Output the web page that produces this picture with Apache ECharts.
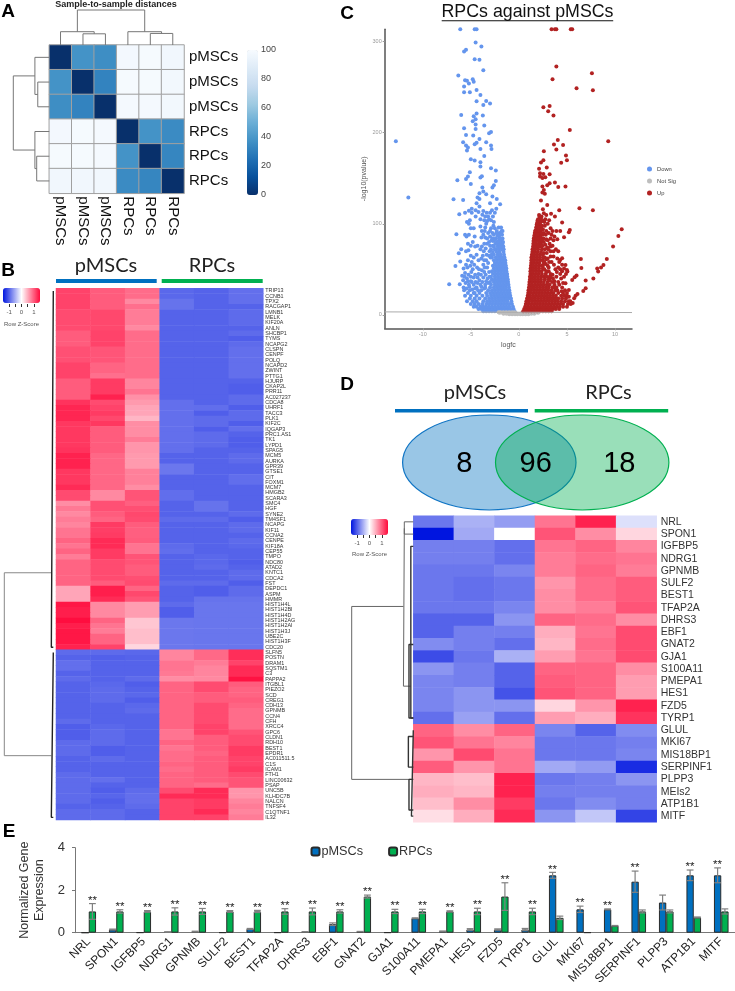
<!DOCTYPE html>
<html><head><meta charset="utf-8">
<style>html,body{margin:0;padding:0;background:#fff}#c{width:735px;height:991px}</style>
<script src="https://cdn.jsdelivr.net/npm/echarts@6/dist/echarts.min.js"></script>
</head><body><div id="c"></div>
<script>
// ---------- DATA ----------
const sampleRowLabels = ['pMSCs','pMSCs','pMSCs','RPCs','RPCs','RPCs'];
const sampleColLabels = ['pMSCs','pMSCs','pMSCs','RPCs','RPCs','RPCs'];
const sampleDistances = [
 [0,38,36,98,99,97],
 [38,0,32,99,99,97.5],
 [36,32,0,98.5,98.5,97.5],
 [98,99,98.5,0,38,35],
 [99,99,98.5,38,0,33],
 [97,97,97,35,33,0]];
// dendrogram brackets: [posA, posB, heightA, heightB, joinHeight]
const dendroARows = [[1.5,2.5,0,0,.32],[.5,2,0,.32,.4],[4.5,5.5,0,0,.35],[3.5,5,0,.35,.4],[1.25,4.25,.4,.4,1]];
const dendroACols = [[1.5,2.5,0,0,.32],[.5,2,0,.32,.38],[4.5,5.5,0,0,.33],[3.5,5,0,.33,.38],[1.25,4.25,.38,.38,1]];
const dendroBRoot = [[53.5,87.9,.04,.04,1]];
const dendroBLeaves = [[.5,67.5,0,0,.04],[68.5,99.5,0,0,.04]];
const dendroDRoot = [[7.4,21.5,.16,.03,1],[1.03,13.9,.146,.04,.16],[.5,1.5,0,0,.146]];
const dendroDLeaves = [[2.5,16.5,0,0,.04],[10.5,16.5,0,0,.07],[17.5,24.5,0,0,.03],[18,20.5,0,0,.08],[21.5,24,0,0,.07]];

const genesB = ['TRIP13','CCNB1','TPX2','RACGAP1','LMNB1','MELK','KIF20A','ANLN','SHCBP1','TYMS','NCAPG2','CLSPN','CENPF','POLQ','NCAPD2','ZWINT','PTTG1','HJURP','CKAP2L','PRR11','AC027237','CDCA8','UHRF1','TACC3','PLK1','KIF2C','IQGAP3','PRC1.AS1','TK1','LYPD1','SPAG5','MCM5','AURKA','GPR39','GTSE1','CIT','FOXM1','MCM7','HMGB2','SCARA3','SMC4','HGF','SYNE2','TM4SF1','NCAPG','KIF11','CCNA2','CENPE','KIF18A','CEP55','TMPO','NDC80','ATAD2','KNTC1','CDCA2','FST','DEPDC1','ASPM','HMMR','HIST1H4L','HIST1H2BI','HIST1H4D','HIST1H2AG','HIST1H2AI','HIST1H3J','UBE2C','HIST1H3F','CDC20','SLFN5','POSTN','DRAM1','SQSTM1','C3','PAPPA2','ITGBL1','PIEZO2','SCD','CREG1','CDH13','GPNMB','CCN4','CFH','XRCC4','GPC6','CLDN1','RDH10','BEST1','EPDR1','AC011511.5','C1S','ICAM1','FTH1','LINC00632','PSAP','UNC5B','KLHDC7B','NALCN','TNFSF4','C1QTNF1','IL32'];
const zScoresB = [
[1.15,1,.9,-.97,-1,-.92],[1.15,1,.9,-.97,-1,-.92],[1.15,1,.72,-.9,-1,-.92],[1.15,1,.88,-.9,-1,-1],
[1.1,1.12,.8,-1,-1,-.95],[1.1,1.12,.8,-1,-1,-.95],[1.1,1.12,.8,-1,-1,-.95],[1.1,1.12,.72,-1,-1,-1],
[1,1.15,.9,-1,-1,-.95],[1,1.15,.9,-1,-1,-1.03],[1,1.15,.9,-1,-1,-.95],[1.07,1.04,.9,-1,-1,-.92],
[1.07,1.04,.9,-1,-1,-.92],[1.07,1.04,.9,-1,-1,-.92],[1.15,.95,.9,-1,-1,-.92],[1.15,.95,.9,-1,-1,-.92],
[1.15,.88,.9,-1,-1,-.92],[1,1.2,.75,-1,-1,-1],[1,1.2,.75,-1,-1,-1.03],[1,1.2,.85,-1,-1,-1.03],
[1,1.35,.68,-1,-1,-.95],[1.25,1.1,.62,-.92,-1,-.95],[1.33,1.15,.55,-.92,-.93,-1.03],[1.33,1.2,.55,-.92,-1.03,-.95],
[1.33,1.12,.45,-.92,-.95,-.95],[1.22,1.22,.7,-.92,-.95,-1.03],[1.22,1,.7,-.92,-1.03,-.92],[1.22,1,.7,-.92,-.95,-1],
[1.22,1,.8,-.92,-.95,-1.03],[1.22,1,.65,-.92,-.95,-1.03],[1.25,1,.65,-.92,-1,-1],[1.35,.93,.62,-1,-1,-.95],
[1.35,.93,.62,-1,-1,-.95],[1.35,.93,.62,-.87,-1,-1],[1.22,.93,.78,-.87,-1,-1],[1.22,.93,.78,-1,-1,-.93],
[1.22,.93,.78,-1,-1,-.93],[1.3,.93,.7,-1,-1,-1],[1.1,.72,1.05,-.93,-1,-1],[1.1,.72,1.05,-.93,-1,-1],
[.7,1.07,.98,-1,-.9,-1],[.82,1.07,1.08,-1,-.9,-1],[.72,1,1.12,-1,-1,-.95],[.8,.95,1.1,-.95,-.95,-1.03],
[.75,1.2,1,-1,-1,-.95],[.85,1.18,.98,-1,-1,-.95],[.85,1.2,.98,-1,-1,-1],[.95,1.3,1,-1,-1,-.95],
[.85,1.3,.85,-.95,-1,-.97],[.95,1.2,.85,-.93,-1,-1],[.8,1.2,1.05,-1,-.97,-1],[.95,1.1,1.05,-1,-.97,-1.03],
[.95,1.1,1,-1,-.95,-1],[.95,1.1,1,-1,-1,-.95],[.95,1.1,1.08,-1,-1,-.95],[.95,1,1.1,-.95,-.95,-1.03],
[.55,1.38,.95,-1,-1.03,-.95],[.55,1.38,1.12,-1,-1.03,-.95],[.55,1.3,1.05,-1,-.9,-.9],[1.42,.72,.6,-.95,-.88,-.88],
[1.38,.72,.6,-1.03,-.88,-.88],[1.38,.72,.6,-1.03,-.88,-.88],[1.48,.95,.35,-.87,-.88,-.88],[1.38,.85,.35,-.87,-.88,-.88],
[1.42,.8,.4,-.87,-.88,-.88],[1.42,.95,.4,-.87,-.88,-.88],[1.42,.95,.4,-.87,-.88,-.88],[1.35,1.15,.25,-.87,-.88,-.88],
[-.95,-.95,-.97,.75,.92,1.28],[-1,-1.02,-1,.75,.92,1.28],[-.92,-1,-1,.85,.8,1.15],[-.92,-1,-1,.85,.75,1.3],
[-1,-1,-1,.82,.75,1.3],[-.95,-1,-.95,.7,.72,1.45],[-1,-.97,-1.03,.95,1.1,1],[-1,-.95,-1,.95,1.1,.95],
[-1,-.95,-.97,.95,1,.95],[-1,-.95,-1.03,.95,1,1],[-1,-1,-.97,.95,1.1,.95],[-1,-1,-.95,.95,1.1,.9],
[-1,-1,-1,.95,1.1,.9],[-.95,-1,-1,.95,1.1,.9],[-1.03,-.97,-1,.95,1.15,.9],[-1.03,-.95,-1,.85,1.15,1.05],
[-1.03,-.95,-1,.85,1,1.1],[-.95,-.95,-1,.95,1,1.1],[-.95,-1.03,-1,.85,1,1.2],[-.95,-1.03,-1,.9,.95,1.2],
[-1,-.95,-1,.9,1,1.15],[-1,-1,-1,.95,1,1.15],[-1,-1,-1,.9,1,1.2],[-.95,-1,-1,.95,1,1.1],
[-.95,-.92,-1,.95,1,1.05],[-.95,-1,-1,.95,.9,1.05],[-.95,-1.03,-.95,1.1,1.3,.65],[-.95,-.98,-.92,1.3,1.3,.65],
[-.95,-1.03,-.92,1.15,1.2,.75],[-1,-1,-.95,1.15,1.2,.8],[-.95,-.95,-1,1.15,1.3,.75],[-.95,-.95,-1,1.15,1.15,.8]];

const genesD = ['NRL','SPON1','IGFBP5','NDRG1','GPNMB','SULF2','BEST1','TFAP2A','DHRS3','EBF1','GNAT2','GJA1','S100A11','PMEPA1','HES1','FZD5','TYRP1','GLUL','MKI67','MIS18BP1','SERPINF1','PLPP3','MEIs2','ATP1B1','MITF'];
const zScoresD = [
[-.87,-.5,-.63,.85,1.35,-.2],[-1.5,-.55,0,1.05,.7,.25],[-.82,-.82,-.92,.85,.95,.75],[-.82,-.82,-.92,.8,.9,.85],
[-.87,-.87,-.78,.8,.95,.8],[-.87,-.92,-.87,.65,.9,1],[-.87,-.92,-.87,.7,.9,1],[-.87,-.87,-.78,.7,.8,1.05],
[-1,-1,-.68,.95,.9,.7],[-1,-.82,-.82,.5,.85,1.1],[-.74,-.82,-.92,.45,.9,1.1],[-1.15,-.87,-.5,.6,.85,1.1],
[-.68,-.82,-1,.95,.95,.7],[-.78,-.82,-1,1,.95,.6],[-.78,-.68,-1.1,1.05,.95,.6],[-.78,-.68,-.68,.25,.65,1.35],
[-.92,-.6,-.92,.6,.5,1.25],[.95,.7,.95,-.78,-1,-.74],[1.05,.85,.75,-.87,-.87,-.82],[.65,1.1,.85,-.87,-.87,-.78],
[1,.65,.85,-.55,-.64,-1.35],[.45,.4,1.35,-.87,-.82,-.68],[.5,.45,1.35,-.82,-.82,-.82],[.4,.7,1.2,-.87,-.74,-.82],
[.2,.5,1.3,-.68,-.36,-1.2]];

const vennCounts = [8,96,18];
const vennSets = ['pMSCs','RPCs'];

// volcano: sparse points [logfc, -log10(p)]
const downSparse = [[-12.8,190.6],[-11.5,129],[-6.1,313.5],[-4.6,313.5],[-4.4,313.5],[-4.5,299],[-3.9,294.5],[-5.5,291],[-5.7,289],[-4.6,280.6],[-4.1,280],[-3.7,268.6],[-6.3,262.7],[-4.8,258.7],[-4.7,255.8],[-5.6,257.6],[-5.4,257],[-5.7,250.6],[-5.2,254],[-4.4,247],[-5.7,244.4],[-5.1,244.4],[-4,241.5],[-4.4,234.5],[-3.4,234.9],[-3,232],[-3.7,230.5],[-6,219.5],[-4.4,221],[-3.75,218.8],[-4.7,218],[-4.5,214.8],[-4.8,212.6],[-4.5,209],[-3.6,207.8],[-5.7,205],[-4.5,204],[-2.9,200.9],[-3.1,199.4],[-5.5,197.6],[-4.75,196.9],[-4.1,193.2],[-3.4,189.5],[-5.8,189.5],[-4.4,189],[-4.6,187.3],[-5.5,185.9],[-5.3,183.7],[-5.4,180.4],[-4,182],[-2.9,185.9],[-2.85,182.2],[-3.6,174.5],[-5,170.9],[-4.6,169.4],[-4,167.6],[-4,162.8],[-2.9,161],[-2.4,158.4],[-5.1,156.6],[-3.85,152.2],[-4,150.7],[-5.3,151.8],[-5.5,149.3],[-6.4,147.8],[-5,143.8],[-2.4,147],[-2.6,142.3],[-2.75,139.8],[-3.8,139.8],[-3.7,135.4],[-4.1,133.6],[-3.4,132.5],[-6.8,127],[-5.8,126.2],[-4.3,129],[-4.1,127.3],[-2.75,130],[-2.3,127.3],[-4.4,122.6],[-3,122.6],[-1.95,121.5],[-4.1,119],[-4.9,116.4],[-2.35,116.4],[-5.2,114.2],[-6.2,110.5],[-4.5,115],[-3.7,114],[-3.35,112],[-3.2,108],[-3.1,105],[-3.3,103],
[-7.25,33.7],[-6.6,53.8],[-6.5,88.5],[-6.25,67.7],[-6.1,58.5],[-6.15,33.7],[-5.9,43],[-5.8,38],[-5.7,27],[-5.6,46],[-5.5,55],[-5.3,60],[-5.6,88],[-5.45,86],[-5.3,78],[-5.25,71],[-5.2,100],[-5.1,104],[-5,76],[-4.9,58],[-4.8,50],[-4.7,95],[-4.6,86],[-4.55,75],[-4.4,66],[-4.35,52],[-4.2,45],[-4.1,38],[-4.4,30],[-4.6,24],[-4,97],[-3.9,85],[-3.85,75],[-3.75,65],[-3.7,55],[-3.6,47],[-3.55,92],[-3.5,85],[-3.45,73],[-3.4,60],[-3.3,52],[-3.25,40],[-3.2,90],[-3.1,80],[-3.05,70],[-3,92],[-2.95,63],[-2.85,82],[-2.75,90],[-2.7,76],[-2.65,98],[-2.6,88],[-2.5,95],[-2.4,84],[-2.3,92],[-2.2,87],[-2.1,96],[-2,90],[-1.85,96],[-1.75,88],[-1.7,92],[-5.6,112],[-5.4,102],[-4.9,112],[-4.5,108],[-4.2,113],[-4,105],[-3.8,110],[-3.6,104],[-3.5,108],[-3.4,100],[-3,112],[-2.9,104],[-2.8,115],[-2.6,102],[-2.5,112],[-2.7,108],[-5,95],[-5.2,88],[-5.5,70],[-6,72],[-5.4,40],[-5.2,33],[-5,42],[-4.9,36],[-4.7,41],[-4.5,36],[-5.1,27],[-3.9,31],[-3.7,41],[-3.5,33],
[-5.75,30],[-5.45,29],[-5.15,31],[-4.85,28],[-4.55,29],[-4.25,27],[-5.55,35],[-5.3,37],[-5,37],[-4.7,33],[-4.3,35],[-4,33],[-3.8,36],[-3.6,29],[-3.4,37],[-5.65,42],[-5.25,44],[-4.95,47],[-4.55,44],[-4.3,41],[-3.95,44],[-3.45,44],[-3.2,35],[-5.75,51],[-5.35,52],[-5.05,54],[-4.65,55],[-4.15,50],[-3.85,49],[-3.55,52],[-3.1,47],[-3.05,42],[-3.2,57],[-3.6,60],[-3.9,62],[-4.2,60],[-4.7,63],[-5,65],[-3.1,65],[-3.35,66],[-3.65,70],[-4,72],[-4.3,76],[-4.8,80],[-3.3,78],[-3.6,78],[-2.9,72],[-3,76],[-2.85,66],[-2.5,72],[-2.45,78],[-2.75,84],[-3,86],[-3.3,84],[-3.7,88],[-2.9,95],[-2.2,80],[-2.5,82],[-1.9,84],[-1.65,80],[-2.05,87],[-2.35,90],[-1.8,92],[-3.5,96],[-3.85,92]];
// dense part of the volcano, as rows: [y, [x, x, ...]]
const downMassRows = [
[4,[-3.7,-3.4,-3.1,-2.8,-2.5,-2.2,-1.9,-1.6,-1.3,-1,-.7,-.45]],
[6.5,[-4.2,-3.9,-3.6,-3.3,-3,-2.7,-2.4,-2.1,-1.8,-1.5,-1.2,-.9,-.55]],
[9,[-4.7,-4.4,-4,-3.7,-3.4,-3.1,-2.8,-2.5,-2.2,-1.9,-1.6,-1.3,-1,-.62]],
[12,[-5,-4.6,-4.2,-3.8,-3.4,-3.1,-2.8,-2.5,-2.2,-1.9,-1.6,-1.3,-1,-.72]],
[15,[-5.4,-4.8,-4.4,-3.7,-3.3,-3,-2.7,-2.4,-2.1,-1.8,-1.5,-1.2,-.78]],
[18,[-5.1,-4.6,-4.1,-3.5,-3.1,-2.8,-2.5,-2.2,-1.9,-1.6,-1.3,-1.05,-.82]],
[21,[-5.6,-5,-4.4,-3.8,-3.3,-2.9,-2.6,-2.3,-2,-1.7,-1.4,-1.15,-.9]],
[24,[-5.3,-4.7,-4.1,-3.4,-3,-2.7,-2.4,-2.1,-1.8,-1.5,-1.2,-.95]],
[27,[-3.9,-3.2,-2.8,-2.5,-2.2,-1.9,-1.6,-1.3,-1]],
[30,[-3.5,-3,-2.6,-2.3,-2,-1.7,-1.4,-1.05]],
[33,[-2.9,-2.5,-2.2,-1.9,-1.6,-1.3,-1.08]],
[36,[-3,-2.6,-2.3,-2,-1.7,-1.4,-1.12]],
[39,[-2.8,-2.5,-2.2,-1.9,-1.6,-1.3,-1.15]],
[42,[-2.9,-2.5,-2.2,-1.9,-1.6,-1.35,-1.2]],
[45,[-2.7,-2.4,-2.1,-1.8,-1.5,-1.22]],
[48,[-2.8,-2.5,-2.2,-1.9,-1.6,-1.3]],
[51,[-2.6,-2.3,-2,-1.7,-1.45,-1.3]],
[54,[-2.7,-2.4,-2.1,-1.8,-1.55,-1.35]],
[57,[-2.5,-2.2,-1.9,-1.65,-1.4]],
[60,[-2.6,-2.3,-2,-1.7,-1.42]],
[63,[-2.8,-2.4,-2.1,-1.8,-1.5]],
[66,[-2.6,-2.2,-1.9,-1.55]],
[69,[-2.7,-2.3,-2,-1.6]],
[72,[-2.4,-2.1,-1.8,-1.58]],
[75,[-2.6,-2.2,-1.9,-1.62]],
[78,[-2.3,-2,-1.7]],
[81,[-2.7,-2.1,-1.8]],
[84,[-2.4,-2,-1.7]]];
const upSparse = [[3.4,313.5],[3.75,313.5],[3.9,313.5],[5.4,313.5],[5.55,313.5],[3.9,272.6],[7.6,265.3],[3.5,258.7],[6,248.8],[7.7,246.6],[2.55,228],[3.2,229.4],[3.05,223.6],[3.6,218.8],[5.3,203],[9.3,190.6],[4.05,192],[3.65,187],[4.6,186.6],[3.9,181.5],[2.6,179.7],[4.9,174.9],[5,169.8],[4.4,166.9],[2.3,167.2],[2.55,169.8],[2.9,161.7],[2.1,160.3],[3.2,154.4],[2.2,155.5],[2.55,154.8],[2.2,152],[2.45,150.4],[2.75,151],[3.75,145.3],[3.2,144.5],[2.95,142.3],[2.45,140.9],[4.1,140.5],[4.85,140.9],[2.6,137],[2.45,134.3],[2.7,133],[2.3,125.5],[2.95,120.7],[6.3,117],[7.7,114.9],[4.2,114.9],[2.5,116],[2.6,111.6],[3.35,110.9],[2.85,109.8],[3.75,108],[2.1,109.8],[2.35,108],[10.7,94],[10.35,86.7],[9.8,75],[5.3,93.3],[5.2,90.7],[4.7,85.3],[4.5,101.4],[4.3,92.2],[9.15,61.5],[8.8,54.9],[8.55,52],[8.15,51],[8.25,47.6],[7.75,39.9],[6.45,61.5],[6.5,51.6],[6,43.2],[5.8,41.3],[6.95,37.7],[5.55,38.4],[6.95,29.3],[6.7,26.3],[6.1,23],[5.9,20.9],[5.75,18.3],[5.2,27.4],[4.85,34.8],[4.85,54.9],[4.5,62.2],[4.3,60.4],[5,49.4],[5.05,47.6],
[2,105],[2.2,100],[2.4,103],[1.95,98],[2.7,98],[2.5,94],[3,100],[3.3,95],[3.1,90],[3.5,92],[2.8,88],[3,82],[3.2,78],[3.6,82],[2.6,80],[2.7,72],[2.9,68],[3.3,70],[3.6,64],[4,62],[4.2,58],[4.5,55],[4.1,52],[3.8,50],[3.4,58],[3.1,52],[3.9,42],[4.3,45],[3.5,44],[3,62],[2.8,56],[3.3,45],[3.7,37],[4.2,33],[4.5,30],[4.8,27],[5,24],[4,27],[3.7,33],[4.4,40],[2.15,108],[2.25,95],[2.45,88],[2.05,92],
[2.55,90],[2.85,92],[2.25,85],[2.55,84],[2.85,83],[2.45,76],[2.75,77],[2.95,74],[2.6,68],[2.55,63],[2.85,61],[2.65,58],[2.5,54],[2.65,50],[2.85,47],[3.1,48],[3.3,41],[3.55,40],[2.9,42],[3.2,38],[3.45,36],[3.6,30],[3.9,30],[4.1,36],[4.6,35],[4.7,42],[4.9,45],[4.5,48],[4.7,51],[3.95,47],[3.65,55],[3.15,58],[3.3,64],[3.6,70],[3.85,72],[3.05,72],[3.3,75],[2.55,103],[2.75,105],[2.3,106],[2.1,102],[1.9,101],[1.95,104],[2.05,96],[2.4,98],[2.65,102],[3.15,104],[1.7,92],[1.95,88],[2.3,90],[2.05,84],[2.3,82],[3.4,88],[3.7,86],[4,83],[3.9,92],[3.3,84],[3.5,76],[4.1,70],[4.3,50],[4.45,26],[5.2,20],[4.75,21],[5.35,15],[5.6,13]];
const upMassRows = [
[4,[.45,.75,1,1.3,1.6,1.9,2.2,2.5,2.8,3.1,3.4]],
[6.5,[.55,.85,1.15,1.45,1.75,2.05,2.35,2.65,2.95,3.25,3.55,3.85,4.2]],
[9,[.65,.95,1.25,1.55,1.85,2.15,2.45,2.75,3.05,3.35,3.65,3.95,4.25,4.6,5]],
[12,[.72,1,1.3,1.6,1.9,2.2,2.5,2.8,3.1,3.4,3.7,4,4.3,4.6,5.1,5.4]],
[15,[.78,1.05,1.35,1.65,1.95,2.25,2.55,2.85,3.15,3.45,3.75,4.05,4.4,4.8,5.2]],
[18,[.85,1.1,1.4,1.7,2,2.3,2.6,2.9,3.2,3.5,3.8,4.1,4.5,4.9]],
[21,[.92,1.15,1.45,1.75,2.05,2.35,2.65,2.95,3.25,3.55,3.85,4.4,5]],
[24,[.97,1.2,1.5,1.8,2.1,2.4,2.7,3,3.3,3.6,4.1,4.6]],
[27,[1,1.25,1.55,1.85,2.15,2.45,2.75,3.05,3.4,3.8]],
[30,[1.05,1.3,1.6,1.9,2.2,2.5,2.8,3.1,3.5]],
[33,[1.08,1.35,1.65,1.95,2.25,2.55,2.9,3.2]],
[36,[1.1,1.35,1.65,1.95,2.25,2.6,3]],
[39,[1.15,1.4,1.7,2,2.3,2.7,3.1]],
[42,[1.15,1.4,1.7,2,2.3,2.6,3.2]],
[45,[1.2,1.45,1.75,2.05,2.4,2.8]],
[48,[1.2,1.45,1.75,2.05,2.35,2.9]],
[51,[1.22,1.5,1.8,2.1,2.5]],
[54,[1.25,1.5,1.8,2.1,2.4,3]],
[57,[1.28,1.55,1.85,2.15,2.6]],
[60,[1.3,1.55,1.85,2.15,2.45]],
[63,[1.3,1.6,1.9,2.2,2.7]],
[66,[1.35,1.6,1.9,2.2,2.5]],
[69,[1.4,1.65,1.95,2.3]],
[72,[1.42,1.7,2,2.4]],
[75,[1.48,1.75,2.05,2.35]],
[78,[1.5,1.75,2.05,2.3]],
[81,[1.52,1.8,2.1,2.4]],
[84,[1.55,1.85,2.15]],
[87,[1.6,1.85,2.15]],
[90,[1.65,1.9,2.2]],
[93,[1.75,2,2.3]],
[96,[1.8,2.05,2.3]],
[99,[1.85,2.15]],
[102,[1.95,2.2]]];
const notSigRows = [
[.6,[-1,-.7,-.4,-.15,.15,.4,.7,1]],
[1.4,[-1.6,-1.3,-1,-.7,-.45,-.2,.2,.45,.7,1,1.3,1.6]],
[2.3,[-2,-1.7,-1.4,-1.1,-.85,-.6,-.35,.35,.6,.85,1.1,1.4,1.7,2]],
[3,[-2.1,-1.9,-1.6,-1.3,-1,-.7,-.45,.45,.7,1,1.3,1.6,1.9]]];
const cutoffLine = [[-13.96,3.3],[11.77,2.6]];
const volcanoGroups = ['Down','Not Sig','Up'];
const volcanoXTicks = [-10,-5,0,5,10];
const volcanoYTicks = [0,100,200,300];

const genesE = ['NRL','SPON1','IGFBP5','NDRG1','GPNMB','SULF2','BEST1','TFAP2A','DHRS3','EBF1','GNAT2','GJA1','S100A11','PMEPA1','HES1','FZD5','TYRP1','GLUL','MKI67','MIS18BP1','SERPINF1','PLPP3','ATP1B1','MITF'];
const pMSCsExpr = [0,.15,.01,.03,.05,.01,.18,.01,.04,.4,.05,.01,.68,.06,.15,.15,.15,2.7,1.1,1.1,2.4,1.42,2.7,2.7];
const pMSCsErr  = [0,.02,0,.01,.02,0,.02,0,.01,.06,.01,0,.02,.02,.04,.03,.05,.14,.15,.02,.5,.35,.25,.35];
const rpcsExpr  = [1,1,1,1,1,1,1,1,1,1,1.7,1,1,1,1,1.7,1,.7,.01,.33,1,1,.72,1];
const rpcsErr   = [.37,.08,.04,.17,.14,.04,.05,.13,.16,.08,.07,.1,.1,.03,.15,.65,.15,.08,0,.01,.07,.07,.02,.12];
const significant = [1,1,1,1,1,1,1,1,1,1,1,1,1,1,1,1,1,1,1,1,1,0,1,1];

// ---------- STYLES ----------
const SANS = '"Liberation Sans", Arial, sans-serif';
const BLUE_WHITE_RED = ['#0015e0','#ffffff','#ff0a3c'];
const BLUES = ['#08306b','#08519c','#2171b5','#4292c6','#6baed6','#9ecae1','#c6dbef','#deebf7','#f7fbff'];
const grids=[], xAxes=[], yAxes=[], series=[], visualMaps=[];
function addGrid(l,t,w,h){grids.push({left:l,top:t,width:w,height:h,containLabel:false});return grids.length-1;}

function heat(rect,rowNames,colNames,matrix,vm,extra){
  const g=addGrid(...rect);
  xAxes.push(Object.assign({type:'category',gridIndex:g,data:colNames,show:false,splitArea:{show:false}},extra.x||{}));
  yAxes.push({type:'category',gridIndex:g,data:rowNames,inverse:true,position:'right',
    axisLine:{show:false},axisTick:{show:false},splitArea:{show:false},
    axisLabel:Object.assign({interval:0,color:'#333',fontFamily:SANS},extra.yl)});
  const data=[];
  matrix.forEach((r,i)=>r.forEach((v,j)=>data.push([j,i,v])));
  series.push({type:'heatmap',xAxisIndex:xAxes.length-1,yAxisIndex:yAxes.length-1,data,silent:true,
    itemStyle:extra.item||{borderWidth:0},progressive:0});
  visualMaps.push(Object.assign({seriesIndex:series.length-1,padding:0,calculable:false,hoverLink:false,silent:true,
    inRange:{color:vm.colors},min:vm.min,max:vm.max,text:null},vm.layout));
}
function dendro(rect,brackets,n,vertical,color,width){
  const g=addGrid(...rect);
  const base={gridIndex:g,type:'value',show:false,scale:false};
  if(vertical){ // tree grows leftward from the rows
    xAxes.push(Object.assign({},base,{min:0,max:1,inverse:true}));
    yAxes.push(Object.assign({},base,{min:0,max:n,inverse:true}));
  }else{
    xAxes.push(Object.assign({},base,{min:0,max:n}));
    yAxes.push(Object.assign({},base,{min:0,max:1}));
  }
  brackets.forEach(([a,b,ha,hb,h])=>{
    const pts=vertical?[[ha,a],[h,a],[h,b],[hb,b]]:[[a,ha],[a,h],[b,h],[b,hb]];
    series.push({type:'line',xAxisIndex:xAxes.length-1,yAxisIndex:yAxes.length-1,data:pts,showSymbol:false,silent:true,clip:false,
      lineStyle:{color,width},z:3});
  });
}
function zKey(left,top){
  const g=addGrid(left,top,37,16);
  xAxes.push({type:'value',gridIndex:g,min:-1.5,max:1.5,position:'bottom',axisLine:{show:false},splitLine:{show:false},
    axisTick:{show:true,length:3,lineStyle:{color:'#333'},customValues:[-1,-.5,0,.5,1]},
    axisLabel:{customValues:[-1,0,1],fontSize:6,color:'#555',fontFamily:SANS,margin:5}});
  yAxes.push({type:'value',gridIndex:g,show:false,min:0,max:1});
}

// A
heat([49.3,45,134.7,148.3],sampleRowLabels,sampleColLabels,sampleDistances,
  {colors:BLUES,min:0,max:100,layout:{left:247,top:50,itemWidth:11,itemHeight:145}},
  {yl:{fontSize:15,color:'#111',margin:5},item:{borderWidth:1,borderColor:'#a0a0a0'},
   x:{show:true,position:'bottom',axisLine:{show:false},axisTick:{show:false},
      axisLabel:{interval:0,rotate:-90,fontSize:15,color:'#111',fontFamily:SANS,margin:3}}});
dendro([13.3,45,36,148.3],dendroARows,6,true,'#777',1);
dendro([49.3,10,134.7,35],dendroACols,6,false,'#777',1);
{ const g=addGrid(247,50,11,145);
  xAxes.push({type:'value',gridIndex:g,show:false,min:0,max:1});
  yAxes.push({type:'value',gridIndex:g,min:0,max:100,interval:20,position:'right',axisLine:{show:false},axisTick:{show:false},splitLine:{show:false},
    axisLabel:{fontSize:9,color:'#444',fontFamily:SANS,margin:3}});
}
// B
const cols=['1','2','3','4','5','6'];
heat([56,288.3,207.3,531.7],genesB,cols,zScoresB,
  {colors:BLUE_WHITE_RED,min:-1.5,max:1.5,layout:{orient:'horizontal',left:3,top:288,itemWidth:15,itemHeight:37}},
  {yl:{fontSize:5.4,margin:2}});
dendro([4.3,288.3,49,531.7],dendroBRoot,100,true,'#888',1);
dendro([4.3,288.3,49,531.7],dendroBLeaves,100,true,'#222',1.4);
zKey(3,288);
// C
{ const g=addGrid(384.7,29.3,247.3,299);
  xAxes.push({type:'value',gridIndex:g,min:-13.96,max:11.77,splitLine:{show:false},
    axisLine:{lineStyle:{color:'#555',width:1.5},onZero:false},
    axisTick:{length:2,lineStyle:{color:'#999'},customValues:volcanoXTicks},
    axisLabel:{customValues:volcanoXTicks,fontSize:5.5,color:'#999',fontFamily:SANS,margin:3},
    name:'logfc',nameLocation:'middle',nameGap:13,nameTextStyle:{fontSize:7,color:'#555',fontFamily:SANS}});
  yAxes.push({type:'value',gridIndex:g,min:-14.7,max:313.5,splitLine:{show:false},
    axisLine:{lineStyle:{color:'#555',width:1.5},onZero:false},
    axisTick:{length:2,lineStyle:{color:'#999'},customValues:volcanoYTicks},
    axisLabel:{customValues:volcanoYTicks,fontSize:5.5,color:'#999',fontFamily:SANS,margin:3},
    name:'-log10(pvalue)',nameLocation:'middle',nameRotate:90,nameGap:17,nameTextStyle:{fontSize:7,color:'#555',fontFamily:SANS}});
  const flat=rows=>rows.flatMap(([y,xs])=>xs.map(x=>[x,y]));
  const vx=xAxes.length-1,vy=yAxes.length-1;
  const sc=(name,data,color)=>series.push({type:'scatter',name,xAxisIndex:vx,yAxisIndex:vy,data,symbolSize:4,silent:true,itemStyle:{color,opacity:1},large:false});
  sc(volcanoGroups[0],flat(downMassRows).concat(downSparse),'#6495ed');
  sc(volcanoGroups[1],flat(notSigRows),'#bebebe');
  sc(volcanoGroups[2],flat(upMassRows).concat(upSparse),'#b22222');
  series.push({type:'line',xAxisIndex:vx,yAxisIndex:vy,data:cutoffLine,showSymbol:false,silent:true,lineStyle:{color:'#aaa',width:1},z:4});
}
// D
heat([413.3,515.7,243.4,306.6],genesD,cols,zScoresD,
  {colors:BLUE_WHITE_RED,min:-1.5,max:1.5,layout:{orient:'horizontal',left:351,top:519,itemWidth:16,itemHeight:37}},
  {yl:{fontSize:10.5,margin:4}});
dendro([351.7,515.7,61.6,306.6],dendroDRoot,25,true,'#666',1);
dendro([351.7,515.7,61.6,306.6],dendroDLeaves,25,true,'#333',1.4);
zKey(351,519);
// E
const BAR_OFFSET=3.65;
{ const g=addGrid(75,847.7,660,85);
  xAxes.push({type:'category',gridIndex:g,data:genesE,axisLine:{lineStyle:{color:'#777',width:1}},axisTick:{length:3,lineStyle:{color:'#777'}},
    axisLabel:{interval:0,rotate:45,fontSize:12,color:'#222',fontFamily:SANS,margin:7}});
  yAxes.push({type:'value',gridIndex:g,min:0,max:4,interval:2,splitLine:{show:false},
    axisLine:{show:true,lineStyle:{color:'#777',width:1}},axisTick:{show:true,length:3,lineStyle:{color:'#777'}},
    axisLabel:{fontSize:13,color:'#333',fontFamily:SANS,margin:10},
    name:'Normalized Gene\nExpression',nameLocation:'middle',nameRotate:90,nameGap:28,
    nameTextStyle:{fontSize:12.5,color:'#333',fontFamily:SANS,lineHeight:15}});
  const ex=xAxes.length-1,ey=yAxes.length-1;
  const bar=(name,data,color)=>series.push({type:'bar',name,xAxisIndex:ex,yAxisIndex:ey,data,barWidth:7.3,barGap:0,silent:true,
    itemStyle:{color,borderColor:'#2a2a2a',borderWidth:1}});
  bar('pMSCs',pMSCsExpr,'#0070c0');
  bar('RPCs',rpcsExpr,'#00b050');
  const errs=(vals,err,off)=>series.push({type:'custom',xAxisIndex:ex,yAxisIndex:ey,silent:true,z:5,
    data:vals.map((v,i)=>[i,v,err[i]]),
    renderItem:(p,api)=>{
      const i=api.value(0),v=api.value(1),e=api.value(2);
      if(e<=0) return {type:'group',children:[]};
      const top=api.coord([i,v+e]),low=api.coord([i,Math.max(v-e,0)]),x=top[0]+off;
      const st={stroke:'#808080',lineWidth:1.2};
      return {type:'group',children:[
        {type:'line',shape:{x1:x,y1:top[1],x2:x,y2:low[1]},style:st},
        {type:'line',shape:{x1:x-3.4,y1:top[1],x2:x+3.4,y2:top[1]},style:st},
        {type:'line',shape:{x1:x-3.4,y1:low[1],x2:x+3.4,y2:low[1]},style:st}]};
    }});
  errs(pMSCsExpr,pMSCsErr,-BAR_OFFSET);
  errs(rpcsExpr,rpcsErr,BAR_OFFSET);
  series.push({type:'custom',xAxisIndex:ex,yAxisIndex:ey,silent:true,z:6,
    data:genesE.map((g,i)=>{
      const b=pMSCsExpr[i]+pMSCsErr[i],r=rpcsExpr[i]+rpcsErr[i];
      return [i,Math.max(b,r),b>r?-1:1,significant[i]];}),
    renderItem:(p,api)=>{
      if(!api.value(3)) return {type:'group',children:[]};
      const c=api.coord([api.value(0),api.value(1)]);
      return {type:'text',style:{text:'**',x:c[0]+api.value(2)*BAR_OFFSET,y:c[1]-3,textAlign:'center',textVerticalAlign:'middle',fontSize:11.5,fontFamily:SANS,fill:'#222'}};
    }});
}

// ---------- TEXT & SHAPES ----------
const T=(text,x,y,size,o)=>({type:'text',x,y,silent:true,z:20,style:Object.assign({text,fontSize:size,fontFamily:SANS,fill:'#000',textAlign:'center',textVerticalAlign:'middle'},o||{})});
const LATO='Lato, "Liberation Sans", sans-serif';
const R=(x,y,w,h,fill)=>({type:'rect',silent:true,z:19,shape:{x,y,width:w,height:h},style:{fill}});
const graphic=[
 T('A',8,12,19,{fontWeight:'bold'}),T('B',8,271,19,{fontWeight:'bold'}),T('C',347,14,19,{fontWeight:'bold'}),T('D',347,385,19,{fontWeight:'bold'}),T('E',9,832,19,{fontWeight:'bold'}),
 T('Sample-to-sample distances',116,4.5,9,{fontWeight:'bold',fill:'#222'}),
 T(vennSets[0],106,266,20,{fontFamily:LATO,fill:'#222'}),T(vennSets[1],212,266,20,{fontFamily:LATO,fill:'#222'}),
 R(56,279,100.7,4,'#0070c0'),R(161.7,279,101,4,'#00b050'),
 T('Row Z-Score',21.5,324,6,{fill:'#555'}),T('Row Z-Score',369.5,554.5,6,{fill:'#555'}),
 T('RPCs against pMSCs',527.5,12,17.8,{fill:'#111'}),R(441.7,20.2,171.5,1,'#111'),
 T(vennSets[0],475,392.5,20,{fontFamily:LATO,fill:'#222'}),T(vennSets[1],608.5,392.5,20,{fontFamily:LATO,fill:'#222'}),
 R(395,409,133,3.5,'#0070c0'),R(534.7,409,133.5,3.5,'#00b050'),
 {type:'ellipse',silent:true,z:17,shape:{cx:489.3,cy:462.5,rx:86.7,ry:47.5},style:{fill:'rgba(0,112,192,0.4)',stroke:'#0f74c4',lineWidth:1.2}},
 {type:'ellipse',silent:true,z:18,shape:{cx:582.2,cy:462.5,rx:86.7,ry:47.5},style:{fill:'rgba(0,176,80,0.4)',stroke:'#00b050',lineWidth:1.2}},
 T(String(vennCounts[0]),464.3,464,29),T(String(vennCounts[1]),535.7,464,29),T(String(vennCounts[2]),619.3,464,29)
];

const chart=echarts.init(document.getElementById('c'),null,{renderer:'canvas'});
chart.setOption({
  animation:false,backgroundColor:'#fff',textStyle:{fontFamily:SANS},
  grid:grids,xAxis:xAxes,yAxis:yAxes,series,visualMap:visualMaps,graphic,
  legend:[
    {data:['pMSCs','RPCs'],left:310.5,top:845,itemWidth:8,itemHeight:8,itemGap:25,padding:0,selectedMode:false,
      textStyle:{fontSize:12.7,color:'#333',fontFamily:SANS,padding:[0,0,0,-3]}},
    {data:volcanoGroups,orient:'vertical',left:647,top:166,itemWidth:5,itemHeight:5,itemGap:6,padding:0,selectedMode:false,icon:'circle',
      textStyle:{fontSize:5.8,color:'#444',fontFamily:SANS}}
  ]
});
</script></body></html>
